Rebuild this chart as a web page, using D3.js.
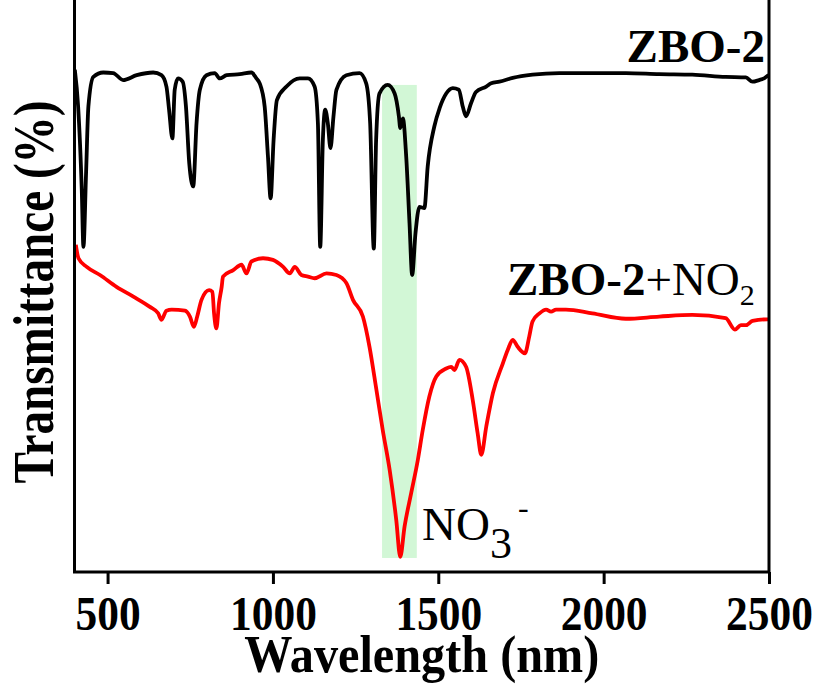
<!DOCTYPE html>
<html>
<head>
<meta charset="utf-8">
<script src="https://cdn.jsdelivr.net/npm/d3@7"></script>
<style>
  body { margin: 0; background: #fff; }
  text { font-family: "Liberation Serif", "Times New Roman", serif; fill: #000; }
</style>
</head>
<body>
<div id="vis"></div>
<script>
let WIDTH = 822;
let HEIGHT = 688;
let MARG = {left: 74.5, right: 53, top: 32, bottom: 116};

// ZBO-2 spectrum (wavelength nm, transmittance a.u.)
const zboWave = [401, 411, 422, 427, 435, 442, 457, 487, 517, 547, 588, 638, 663, 678, 686, 696, 703, 713, 727, 737,
  747, 759, 769, 779, 799, 824, 839, 860, 900, 935, 950, 960, 975, 985, 993, 1002, 1012, 1041, 1081, 1106,
  1126, 1136, 1143, 1151, 1158, 1166, 1174, 1183, 1192, 1222, 1262, 1282, 1294, 1305, 1312, 1322, 1347, 1368, 1381, 1385,
  1393, 1403, 1413, 1421, 1431, 1443, 1458, 1468, 1488, 1504, 1524, 1544, 1562, 1574, 1584, 1599, 1614, 1645, 1660, 1685,
  1725, 1785, 1866, 1966, 2067, 2168, 2268, 2369, 2430, 2450, 2470, 2485, 2496, 2500];
const zboVal = [93.0, 86.2, 70.7, 60.2, 73.9, 86.2, 91.7, 92.5, 92.4, 91.1, 92.0, 92.5, 92.0, 89.9, 85.6, 80.3, 89.3, 91.4, 90.8, 86.2,
  75.7, 71.4, 83.1, 89.3, 92.0, 92.4, 91.4, 92.0, 92.2, 92.5, 91.4, 90.5, 86.2, 76.9, 69.2, 80.0, 87.4, 89.9, 91.4, 91.4,
  89.9, 83.1, 60.2, 80.0, 85.6, 83.1, 78.5, 84.3, 89.3, 92.0, 92.4, 90.5, 83.1, 59.9, 80.0, 88.6, 90.2, 88.6, 84.3, 82.2,
  84.0, 76.9, 64.6, 55.0, 62.7, 67.6, 67.4, 75.1, 82.5, 85.9, 88.6, 89.6, 89.3, 86.2, 84.4, 86.8, 88.9, 89.9, 90.5, 90.8,
  91.5, 92.1, 92.4, 92.4, 92.4, 92.2, 92.1, 91.7, 91.6, 90.8, 91.1, 91.4, 91.9, 92.0];

// ZBO-2 + NO2 spectrum
const no2Wave = [404, 412, 437, 477, 527, 578, 628, 653, 663, 678, 694, 734, 749, 761, 771, 784, 807, 817, 822, 829,
  837, 845, 849, 880, 905, 920, 935, 970, 1000, 1031, 1051, 1066, 1086, 1106, 1126, 1162, 1192, 1222, 1242, 1272,
  1292, 1313, 1332, 1353, 1373, 1385, 1398, 1418, 1438, 1453, 1473, 1494, 1524, 1539, 1549, 1564, 1584, 1604, 1619, 1630,
  1645, 1665, 1695, 1710, 1725, 1740, 1762, 1775, 1785, 1806, 1826, 1841, 1856, 1886, 1966, 2067, 2168, 2268, 2369, 2397,
  2415, 2430, 2450, 2495, 2500];
const no2Val = [60.6, 58.1, 56.5, 55.0, 52.8, 51.0, 49.1, 47.9, 46.7, 48.4, 48.6, 48.4, 47.3, 45.4, 47.3, 50.4, 52.2, 51.9, 47.9, 45.1,
  49.8, 52.8, 54.7, 55.9, 56.9, 55.3, 57.5, 58.1, 57.8, 56.5, 55.3, 56.5, 55.0, 54.7, 54.4, 55.3, 55.0, 53.5, 50.4, 47.3,
  41.7, 33.7, 26.3, 18.9, 9.6, 2.8, 8.4, 14.6, 20.7, 26.3, 32.5, 36.2, 37.7, 38.0, 37.4, 39.3, 38.0, 31.9, 25.7, 21.7,
  26.9, 33.1, 38.6, 41.1, 43.0, 41.7, 40.5, 43.6, 46.4, 47.9, 48.6, 48.2, 48.6, 48.6, 47.9, 46.9, 47.3, 47.6, 47.0, 44.9,
  45.7, 45.7, 46.5, 46.8, 46.8];

const xTicks = [500, 1000, 1500, 2000, 2500];
const band = [1330, 1435];
const bandVal = [2.6, 90.2];

let VIS_WIDTH = WIDTH - MARG.left - MARG.right;
let VIS_HEIGHT = HEIGHT - MARG.top - MARG.bottom;

const FRAME = d3.select("#vis")
  .append("svg")
    .attr("width", WIDTH)
    .attr("height", HEIGHT);

const X_SCALE = d3.scaleLinear().domain([400, 2500]).range([MARG.left, MARG.left + VIS_WIDTH]);
const Y_SCALE = d3.scaleLinear().domain([0, 100]).range([MARG.top + VIS_HEIGHT, MARG.top]);

// highlighted NO3- band
FRAME.append("rect")
  .attr("x", X_SCALE(band[0]))
  .attr("y", Y_SCALE(bandVal[1]))
  .attr("width", X_SCALE(band[1]) - X_SCALE(band[0]))
  .attr("height", Y_SCALE(bandVal[0]) - Y_SCALE(bandVal[1]))
  .attr("fill", "#d2f7d6");

const line = d3.line()
  .x(d => X_SCALE(d[0]))
  .y(d => Y_SCALE(d[1]))
  .curve(d3.curveMonotoneX);

FRAME.append("path")
  .datum(d3.zip(zboWave, zboVal))
  .attr("d", line)
  .attr("fill", "none")
  .attr("stroke", "#000")
  .attr("stroke-width", 3.8)
  .attr("stroke-linejoin", "round");

FRAME.append("path")
  .datum(d3.zip(no2Wave, no2Val))
  .attr("d", line)
  .attr("fill", "none")
  .attr("stroke", "#ff0000")
  .attr("stroke-width", 3.8)
  .attr("stroke-linejoin", "round");

// frame: left, right, bottom (top is cut off)
const yBottom = Y_SCALE(0);
const yTop = 0;
FRAME.append("path")
  .attr("d", "M" + X_SCALE(400) + "," + yTop + "V" + yBottom + "H" + X_SCALE(2500) + "V" + yTop)
  .attr("fill", "none")
  .attr("stroke", "#000")
  .attr("stroke-width", 3);

const xAxis = FRAME.append("g")
  .attr("transform", "translate(0," + yBottom + ")")
  .call(d3.axisBottom(X_SCALE).tickValues(xTicks).tickFormat(d3.format("d")).tickSize(12).tickSizeOuter(0));
xAxis.select(".domain").remove();
xAxis.selectAll("line").attr("stroke", "#000").attr("stroke-width", 3);
xAxis.selectAll("text")
  .attr("y", 58)
  .attr("dy", 0)
  .attr("font-size", 48)
  .attr("font-weight", "bold")
  .attr("font-family", "Liberation Serif, serif")
  .attr("fill", "#000")
  .attr("textLength", d => String(d).length * 21.7)
  .attr("lengthAdjust", "spacingAndGlyphs");

FRAME.append("text")
  .attr("x", (X_SCALE(400) + X_SCALE(2500)) / 2)
  .attr("y", 672)
  .attr("text-anchor", "middle")
  .attr("font-size", 52)
  .attr("font-weight", "bold")
  .attr("textLength", 355)
  .attr("lengthAdjust", "spacingAndGlyphs")
  .text("Wavelength (nm)");

FRAME.append("text")
  .attr("transform", "translate(53,292) rotate(-90)")
  .attr("text-anchor", "middle")
  .attr("font-size", 56)
  .attr("font-weight", "bold")
  .attr("textLength", 383)
  .attr("lengthAdjust", "spacingAndGlyphs")
  .text("Transmittance (%)");

// series labels
FRAME.append("text")
  .attr("x", 765)
  .attr("y", 62)
  .attr("text-anchor", "end")
  .attr("font-size", 47)
  .attr("font-weight", "bold")
  .text("ZBO-2");

const lbl2 = FRAME.append("text")
  .attr("x", 507)
  .attr("y", 295)
  .attr("font-size", 47);
lbl2.append("tspan").attr("font-weight", "bold").text("ZBO-2");
lbl2.append("tspan").text("+NO");
lbl2.append("tspan").attr("font-size", 30).attr("dy", 10).text("2");

const lbl3 = FRAME.append("text")
  .attr("x", 422)
  .attr("y", 540)
  .attr("font-size", 47);
lbl3.append("tspan").text("NO");
lbl3.append("tspan").attr("font-size", 44).attr("dy", 18).text("3");
lbl3.append("tspan").attr("font-size", 32).attr("dx", 6).attr("dy", -40).text("-");
</script>
</body>
</html>
